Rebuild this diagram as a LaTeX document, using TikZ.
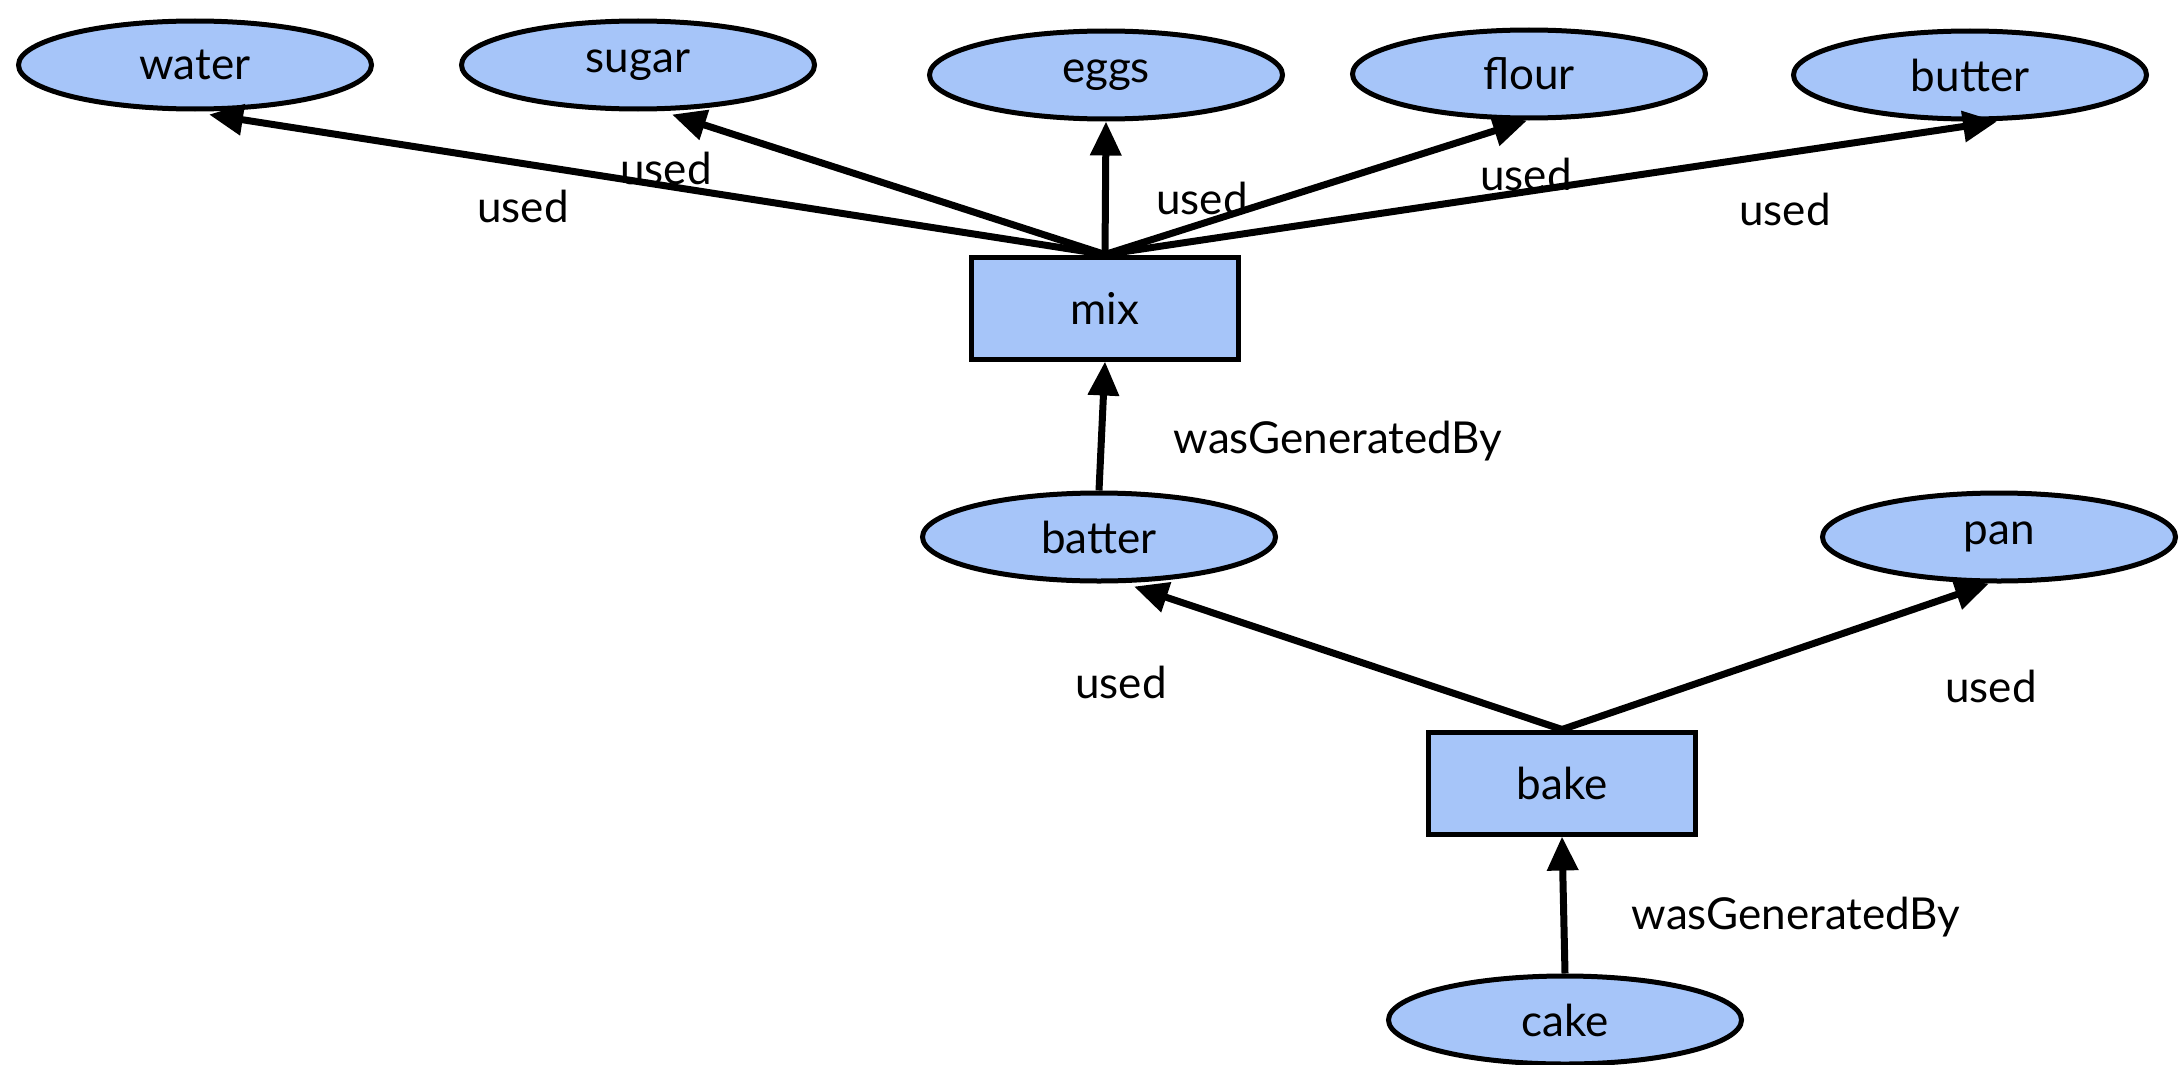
\documentclass[tikz,border=0pt]{standalone}
\usepackage{fontspec}
\setmainfont{Lato}
\usetikzlibrary{shapes.geometric,arrows.meta}
\definecolor{nodeblue}{RGB}{166,197,249}
\tikzset{
  entity/.style={ellipse, draw=black, line width=5pt, fill=nodeblue, minimum width=353pt, minimum height=88pt, inner sep=0pt, font=\fontsize{44}{48}\selectfont},
  activity/.style={rectangle, draw=black, line width=5pt, fill=nodeblue, minimum width=267pt, minimum height=102pt, inner sep=0pt, font=\fontsize{44}{48}\selectfont},
  rel/.style={line width=7pt, -{Triangle[length=34pt,width=30pt]}},
  lbl/.style={font=\fontsize{44}{48}\selectfont, inner sep=0pt}
}
\begin{document}
\begin{tikzpicture}[x=1pt,y=-1pt]
\path[use as bounding box, fill=white] (0,0) rectangle (2181,1065);
% entities
\node[entity] (water)  at (195,65)  {water};
\node[entity] (sugar)  at (638,65)  {sugar};
\node[entity] (eggs)   at (1106,75) {eggs};
\node[entity] (flour)  at (1529,74) {flour};
\node[entity] (butter) at (1970,75) {butter};
\node[activity] (mix)  at (1105,308) {mix};
\node[entity] (batter) at (1099,537) {batter};
\node[entity] (pan)    at (1999,537) {pan};
\node[activity] (bake) at (1562,783) {bake};
\node[entity] (cake)   at (1565,1020) {cake};
% edges
\draw[rel] (mix.north) -- ([xshift=14pt,yshift=-3pt]water.south);
\draw[rel] (mix.north) -- ([xshift=34pt,yshift=-3pt]sugar.south);
\draw[rel] (mix.north) -- (eggs.south);
\draw[rel] (mix.north) -- ([xshift=-2pt]flour.south);
\draw[rel] (mix.north) -- ([xshift=27pt]butter.south);
\draw[rel] (batter.north) -- (mix.south);
\draw[rel] (bake.north) -- ([xshift=35pt,yshift=-3pt]batter.south);
\draw[rel] (bake.north) -- ([xshift=-10pt]pan.south);
\draw[rel] (cake.north) -- (bake.south);
% labels
\node[lbl] (l1) at (523,206) {used};
\node[lbl] (l2) at (666,168) {used};
\node[lbl] (l3) at (1202,198) {used};
\node[lbl] (l4) at (1526,174) {used};
\node[lbl] (l5) at (1785,209) {used};
\node[lbl] (l6) at (1338,441) {wasGeneratedBy};
\node[lbl] (l7) at (1121,682) {used};
\node[lbl] (l8) at (1991,686) {used};
\node[lbl] (l9) at (1796,917) {wasGeneratedBy};
\end{tikzpicture}
\end{document}
